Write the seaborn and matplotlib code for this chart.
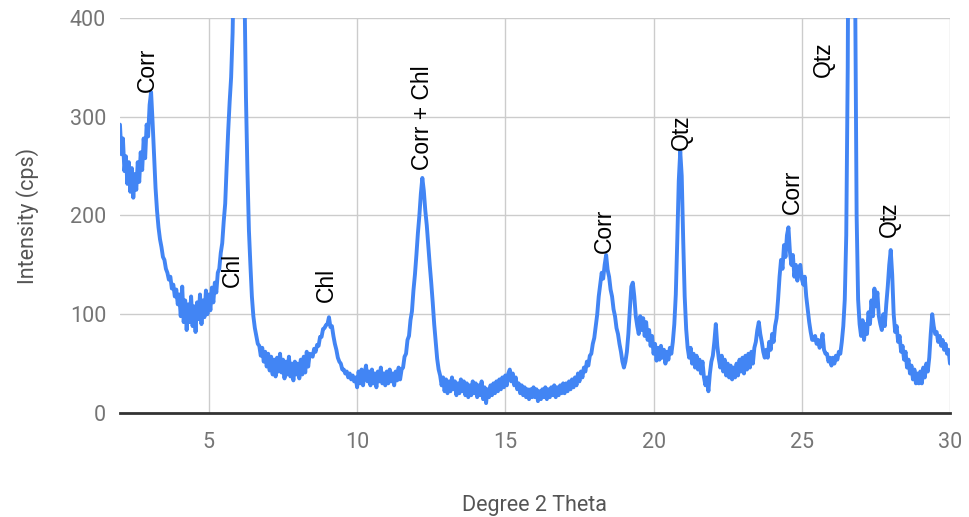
'''XRD pattern - intensity vs degree 2 theta'''
import numpy as np
import pandas as pd
import seaborn as sns
import matplotlib.pyplot as plt

# sampled every 0.05 degree from 2.00 to 30.00, one row per degree
two_theta = np.round(np.arange(2.0, 30.0001, 0.05), 2)
intensity = [
    292, 262, 278, 245, 260, 232, 254, 224, 248, 218, 242, 226, 254, 234, 264, 246, 278, 258, 292, 280,  # 2
    312, 325, 295, 262, 228, 205, 188, 176, 168, 158, 155, 146, 142, 135, 138, 126, 130, 118, 125, 110,  # 3
    120, 98, 128, 92, 114, 84, 110, 92, 118, 88, 108, 82, 112, 95, 120, 90, 114, 97, 124, 100,  # 4
    120, 104, 127, 112, 132, 122, 142, 146, 162, 172, 194, 212, 250, 285, 315, 340, 385, 470, 600, 780,  # 5
    900, 950, 850, 620, 430, 320, 245, 185, 150, 118, 98, 86, 78, 70, 68, 58, 66, 52, 62, 47,  # 6
    60, 43, 57, 39, 54, 37, 56, 42, 60, 41, 54, 35, 52, 39, 57, 37, 50, 33, 52, 39,  # 7
    50, 35, 54, 39, 57, 41, 62, 47, 60, 59, 57, 65, 62, 69, 68, 77, 77, 85, 86, 89,  # 8
    90, 97, 87, 88, 78, 70, 64, 56, 52, 50, 44, 44, 40, 42, 36, 40, 34, 38, 32, 36,  # 9
    26, 42, 30, 44, 28, 40, 48, 32, 42, 28, 44, 30, 40, 26, 42, 32, 46, 30, 40, 28,  # 10
    42, 30, 44, 32, 40, 28, 42, 33, 46, 34, 44, 46, 57, 60, 74, 78, 94, 103, 124, 140,  # 11
    160, 182, 200, 222, 238, 225, 205, 190, 170, 150, 132, 112, 90, 72, 55, 44, 38, 28, 36, 22,  # 12
    34, 20, 32, 22, 36, 24, 32, 18, 30, 20, 34, 22, 32, 18, 30, 16, 28, 18, 32, 20,  # 13
    30, 16, 28, 18, 32, 14, 26, 10, 24, 16, 28, 18, 30, 20, 32, 22, 34, 24, 36, 26,  # 14
    38, 28, 40, 44, 32, 40, 28, 36, 24, 30, 20, 28, 18, 26, 16, 24, 14, 24, 16, 26,  # 15
    16, 24, 12, 22, 14, 24, 16, 26, 14, 24, 16, 26, 18, 28, 16, 26, 18, 28, 20, 30,  # 16
    20, 30, 22, 32, 24, 34, 26, 36, 28, 40, 32, 42, 36, 46, 42, 52, 48, 58, 60, 70,  # 17
    76, 88, 100, 118, 130, 142, 136, 150, 160, 145, 138, 125, 118, 105, 98, 86, 80, 70, 62, 52,  # 18
    46, 52, 62, 80, 105, 128, 132, 118, 98, 88, 80, 98, 84, 96, 78, 92, 74, 84, 68, 78,  # 19
    60, 70, 53, 66, 54, 68, 56, 64, 50, 62, 54, 66, 60, 72, 90, 120, 175, 235, 265, 240,  # 20
    175, 118, 85, 66, 56, 66, 50, 60, 46, 58, 44, 54, 40, 52, 36, 28, 36, 22, 40, 52,  # 21
    58, 72, 90, 68, 55, 46, 58, 42, 54, 38, 50, 36, 48, 34, 46, 36, 50, 38, 54, 42,  # 22
    56, 40, 58, 44, 60, 46, 62, 50, 66, 72, 84, 92, 80, 72, 62, 56, 64, 56, 72, 64,  # 23
    80, 72, 88, 96, 115, 138, 155, 146, 170, 158, 180, 188, 163, 150, 160, 138, 150, 134, 147, 150,  # 24
    136, 130, 138, 118, 105, 92, 82, 74, 74, 78, 70, 74, 66, 70, 80, 64, 60, 60, 52, 56,  # 25
    48, 56, 50, 58, 54, 62, 60, 72, 88, 115, 180, 350, 700, 1100, 1000, 700, 430, 200, 115, 90,  # 26
    78, 94, 74, 90, 80, 102, 90, 114, 98, 126, 108, 122, 98, 90, 84, 100, 88, 110, 128, 150,  # 27
    165, 140, 100, 82, 88, 72, 78, 62, 68, 54, 62, 46, 54, 40, 48, 34, 44, 30, 40, 30,  # 28
    42, 30, 46, 36, 50, 42, 56, 80, 100, 88, 80, 82, 72, 78, 68, 74, 64, 70, 60, 64,  # 29
    50,  # 30
]

# peak labels: text, 2 theta position, intensity where the text starts
label_text = ['Corr', 'Chl', 'Chl', 'Corr + Chl', 'Corr', 'Qtz', 'Corr', 'Qtz', 'Qtz']
label_x = [2.94, 5.78, 8.95, 12.22, 18.33, 20.93, 24.67, 25.72, 27.95]
label_y = [325, 128, 112, 246, 162, 266, 202, 340, 178]

df = pd.DataFrame({'two_theta': two_theta, 'intensity': intensity})

sns.set_style('white')
plt.rcParams['font.family'] = ['Roboto', 'DejaVu Sans']

fig = plt.figure(figsize=(9.69, 5.17), dpi=100)
ax = fig.add_axes([0.1238, 0.2012, 0.8566, 0.764])

sns.lineplot(data=df, x='two_theta', y='intensity', ax=ax, color='#4285F4',
             linewidth=2.8, estimator=None, zorder=3)

ax.set_xlim(2, 30)
ax.set_ylim(0, 400)
ax.set_xticks([5, 10, 15, 20, 25, 30])
ax.set_yticks([0, 100, 200, 300, 400])
ax.grid(True, color='#cccccc', linewidth=1)
sns.despine(ax=ax, left=True, right=True, top=True, bottom=False)
ax.spines['bottom'].set_color('#333333')
ax.spines['bottom'].set_linewidth(2)
ax.spines['bottom'].set_zorder(4)
ax.tick_params(axis='both', length=0, labelsize=15.5, labelcolor='#757575')
ax.tick_params(axis='x', pad=14)
ax.tick_params(axis='y', pad=10)

ax.set_xlabel('Degree 2 Theta', fontsize=15.5, color='#555555', labelpad=30)
ax.set_ylabel('Intensity (cps)', fontsize=15.5, color='#555555', labelpad=22)

for t, x, y in zip(label_text, label_x, label_y):
    ax.text(x, y, t, rotation=90, ha='center', va='bottom', fontsize=16.5,
            family=['Liberation Sans', 'DejaVu Sans'], color='black', zorder=5)

fig.savefig('out.png', dpi=100)
